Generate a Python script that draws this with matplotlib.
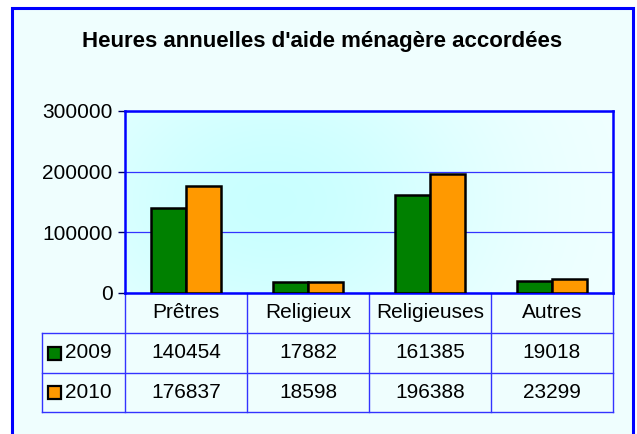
import numpy as np
import matplotlib
matplotlib.use("Agg")
import matplotlib.pyplot as plt
from matplotlib.patches import Rectangle
from matplotlib.transforms import blended_transform_factory

categories = ["Prêtres", "Religieux", "Religieuses", "Autres"]
years = ["2009", "2010"]
hours_2009 = [140454, 17882, 161385, 19018]
hours_2010 = [176837, 18598, 196388, 23299]
yticks = [0, 100000, 200000, 300000]
colors = ["#008000", "#ff9900"]

plt.rcParams['font.family'] = ['Liberation Sans', 'DejaVu Sans']

W, H = 637, 434
fig = plt.figure(figsize=(W / 100, H / 100), dpi=100)
fig.patch.set_facecolor('white')

# chart area with blue frame (bottom edge falls outside the picture)
fig.patches.append(Rectangle((12 / W, -0.05), 621 / W, (H - 8) / H + 0.05,
                             transform=fig.transFigure, facecolor='#effefe',
                             edgecolor='#0000ff', linewidth=2.2, zorder=-1))

fig.text((12 + 633) / 2 / W, 1 - 42 / H, "Heures annuelles d'aide ménagère accordées",
         ha='center', va='center', fontsize=16, fontweight='bold')

ax = fig.add_axes([125 / W, (H - 293) / H, 488 / W, 182 / H])

# soft cyan gradient in the plot area
gx, gy = np.meshgrid(np.linspace(0, 1, 300), np.linspace(0, 1, 120))
wgt = np.exp(-(((gx - 0.3) / 0.45) ** 2 + ((gy - 0.5) / 0.9) ** 2))
light = np.array([0.95, 1.0, 1.0])
dark = np.array([0.79, 1.0, 1.0])
img = light * (1 - wgt[..., None]) + dark * wgt[..., None]
ax.imshow(img, extent=[-0.5, 3.5, 0, 300000], aspect='auto', zorder=0)

x = np.arange(len(categories))
w = 0.29
ax.bar(x - w / 2, hours_2009, w, color=colors[0], edgecolor='black', linewidth=1.8, zorder=3)
ax.bar(x + w / 2, hours_2010, w, color=colors[1], edgecolor='black', linewidth=1.8, zorder=3)

ax.set_xlim(-0.5, 3.5)
ax.set_ylim(0, 300000)
ax.set_yticks(yticks)
ax.set_yticklabels([str(v) for v in yticks])
ax.set_xticks([])
ax.yaxis.grid(True, color='#3333ff', linewidth=0.9, zorder=1)
ax.set_axisbelow(True)
for s in ax.spines.values():
    s.set_color('#0000ff')
    s.set_linewidth(1.8)
ax.tick_params(axis='y', length=5, width=1, color='#000060', pad=4, labelsize=15)

# data table under the plot
trans = blended_transform_factory(ax.transData, ax.transAxes)
px = 122.0
r0, r1, r2, r3 = 0, -40 / 182, -80 / 182, -119 / 182
xlab = (42 - 125) / px - 0.5
lc = '#3333ff'
for yy, x0 in [(r1, xlab), (r2, xlab), (r3, xlab)]:
    ax.plot([x0, 3.5], [yy, yy], color=lc, lw=1, transform=trans, clip_on=False)
for xb in np.arange(-0.5, 4, 1.0):
    ax.plot([xb, xb], [r0, r3], color=lc, lw=1, transform=trans, clip_on=False)
ax.plot([xlab, xlab], [r1, r3], color=lc, lw=1, transform=trans, clip_on=False)

for i, c in enumerate(categories):
    ax.text(i, (r0 + r1) / 2, c, ha='center', va='center', fontsize=15, transform=trans)
rows = [hours_2009, hours_2010]
for j, (yr, vals) in enumerate(zip(years, rows)):
    top = [r1, r2][j]
    bot = [r2, r3][j]
    yc = (top + bot) / 2
    for i, v in enumerate(vals):
        ax.text(i, yc, str(v), ha='center', va='center', fontsize=15, transform=trans)
    ax.add_patch(Rectangle(((48 - 125) / px - 0.5, yc - 6.5 / 182), 13 / px, 13 / 182,
                           facecolor=colors[j], edgecolor='black', linewidth=1.6,
                           transform=trans, clip_on=False))
    ax.text((65 - 125) / px - 0.5, yc, yr, ha='left', va='center', fontsize=15, transform=trans)

fig.savefig('out.png', dpi=100)
